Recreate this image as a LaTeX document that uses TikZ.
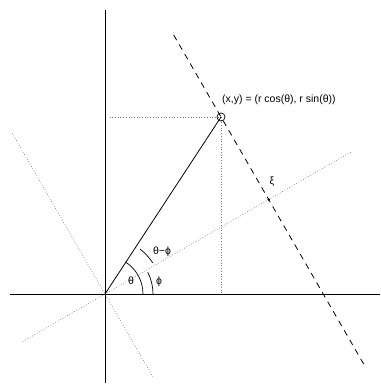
\documentclass[tikz,border=0pt]{standalone}
\usepackage{fontspec}
\setmainfont{Liberation Sans}
\usetikzlibrary{calc}
\tikzset{
  axis/.style={black, line width=0.8pt},
  guide/.style={gray, dotted, line width=0.7pt},
  proj/.style={black, dash pattern=on 6pt off 5pt, line width=0.8pt},
  ang/.style={black, line width=0.7pt},
  lbl/.style={font=\fontsize{10.5}{12}\selectfont, inner sep=1pt},
}

\begin{document}
\begin{tikzpicture}[x=1pt,y=1pt]
  \useasboundingbox (-105,-91) rectangle (275,294);
  \coordinate (O) at (0,0);
  \coordinate (P) at (116,177);
  \coordinate (Xi) at (30:189);
  % axes
  \draw[axis] (-95,0) -- (275,0);
  \draw[axis] (0,-89) -- (0,284);
  % rotated frame
  \draw[guide] ($(O)+(30:-95)$) -- ($(O)+(30:285)$);
  \draw[guide] ($(O)+(120:-96)$) -- ($(O)+(120:187)$);
  % projections of P
  \draw[guide] (P) -- ($(O |- P)+(5,0)$);
  \draw[guide] (P) -- (P |- O);
  \draw[axis] (O) -- (P);
  \draw[proj] ($(Xi)+(-60:-190)$) -- ($(Xi)+(-60:193)$);
  \draw[ang] (P) circle (4);
  \fill (Xi) circle (1.4);
  % angles
  \draw[ang] (0:38) arc[start angle=0, end angle=56.8, radius=38];
  \draw[ang] (0:48) arc[start angle=0, end angle=27, radius=48];
  \draw[ang] (33:57) arc[start angle=33, end angle=52, radius=57];
  \node[lbl] (theta) at (26,13) {θ};
  \node[lbl] (phi) at (54,12) {ϕ};
  \node[lbl] (diff) at (57,42) {θ−ϕ};
  \node[lbl] (xi) at (167,112) {ξ};
  \node[lbl, anchor=west] (pt) at (116,194) {(x,y) = (r cos(θ), r sin(θ))};
\end{tikzpicture}
\end{document}
